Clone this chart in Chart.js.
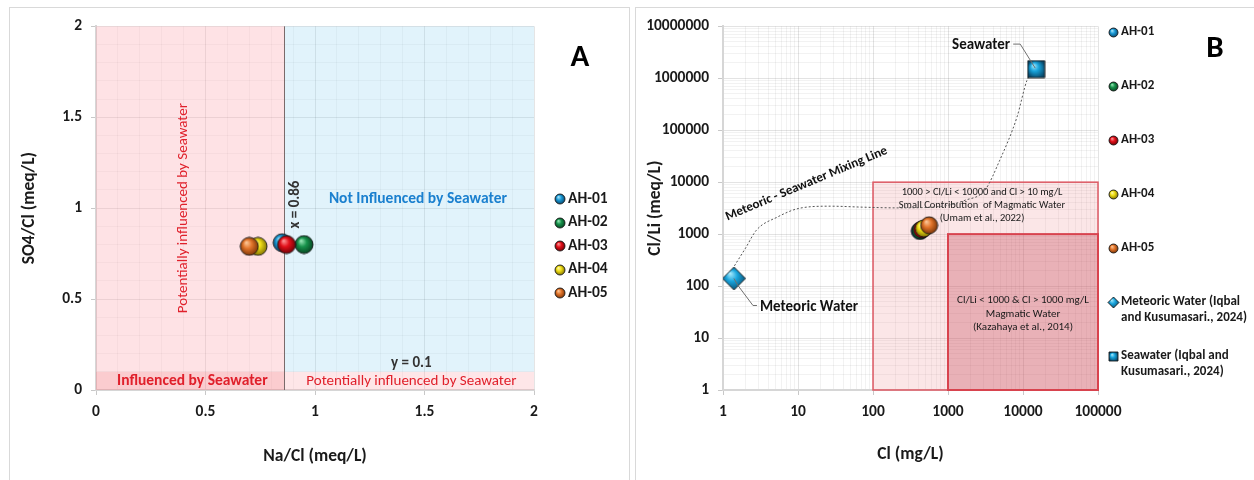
<!DOCTYPE html>
<html>
<head>
<meta charset="utf-8"/>
<title>Na/Cl - SO4/Cl and Cl - Cl/Li diagrams</title>
<script src="https://cdnjs.cloudflare.com/ajax/libs/Chart.js/4.4.1/chart.umd.min.js"></script>
<style>
  body { margin: 0; background: #fff; }
  .panel { position: absolute; top: 7px; width: 621px; height: 480px; border: 1px solid #d9d9d9; box-sizing: border-box; overflow: hidden; }
  #panelA { left: 9px; }
  #panelB { left: 635px; }
  canvas { display: block; }
</style>
</head>
<body>
<div class="panel" id="panelA"><canvas id="chartA" width="619" height="472"></canvas></div>
<div class="panel" id="panelB"><canvas id="chartB" width="619" height="472"></canvas></div>
<script>
// sample names
const sampleNames = ["AH-01", "AH-02", "AH-03", "AH-04", "AH-05"];

// panel A: Na/Cl vs SO4/Cl (meq/L)
const naCl = [0.85, 0.95, 0.87, 0.74, 0.70];
const so4Cl = [0.81, 0.80, 0.80, 0.79, 0.79];
const naClLimit = 0.86;
const so4ClLimit = 0.1;
const ticksA = [0, 0.5, 1, 1.5, 2];

// panel B: Cl (mg/L) vs Cl/Li (meq/L)
const clSample = [420, 430, 450, 475, 560];
const clLiSample = [1150, 1170, 1230, 1290, 1480];
const endNames = ["Meteoric Water (Iqbal and Kusumasari., 2024)", "Seawater (Iqbal and Kusumasari., 2024)"];
const endCl = [1.4, 15000];
const endClLi = [140, 1500000];
// meteoric - seawater mixing line
const mixCl = [1.42, 2.0, 2.8, 5.2, 10.5, 27, 75, 210, 780, 1700, 3100, 4900, 8300, 11300, 13500];
const mixClLi = [245, 540, 1200, 2100, 3150, 3450, 3300, 3200, 3400, 4500, 7000, 26500, 178000, 915000, 1400000];
// boxes: Cl from, Cl to, Cl/Li from, Cl/Li to
const smallMagmaticBox = [100, 100000, 1, 10000];
const magmaticBox = [1000, 100000, 1, 1000];
const ticksClB = [1, 10, 100, 1000, 10000, 100000];
const ticksClLiB = [1, 10, 100, 1000, 10000, 100000, 1000000, 10000000];

const FONT = "Carlito, Lato, 'Open Sans', sans-serif";
Chart.defaults.font.family = FONT;
Chart.defaults.color = '#1a1a1a';
Chart.defaults.animation = false;

// highlight, base, shadow
const seriesColors = [
  ['#b5ecff', '#1a9ad6', '#073f63'],
  ['#a5eec0', '#17924b', '#053f1e'],
  ['#ffa3a3', '#e3101a', '#650004'],
  ['#fffbb8', '#efdd14', '#776900'],
  ['#ffcfa3', '#e2742a', '#723004']
];
const endColors = ['#b0efff', '#18a4dc', '#08496b'];
// drawing order, lower is on top
const drawOrder = [4, 3, 2, 1, 0];

// shaded 3d markers drawn on small canvases
function markerCanvas(size, pathFn, cols) {
  const c = document.createElement('canvas');
  c.width = c.height = size;
  const g = c.getContext('2d');
  const m = size / 2, r = size / 2 - 1;
  const grad = g.createRadialGradient(m - r * 0.35, m - r * 0.45, 0, m, m, r * 1.1);
  grad.addColorStop(0, cols[0]);
  grad.addColorStop(0.45, cols[1]);
  grad.addColorStop(1, cols[2]);
  g.beginPath();
  pathFn(g, m, r);
  g.closePath();
  g.fillStyle = grad;
  g.fill();
  g.strokeStyle = 'rgba(20,20,20,0.85)';
  g.lineWidth = 1;
  g.stroke();
  return c;
}
const sphere = (cols, r) => markerCanvas(Math.ceil(2 * r + 2), (g, m, rr) => g.arc(m, m, rr, 0, Math.PI * 2), cols);
const diamond = (cols, r) => markerCanvas(Math.ceil(2 * r + 2), (g, m, rr) => {
  g.moveTo(m, m - rr); g.lineTo(m + rr, m); g.lineTo(m, m + rr); g.lineTo(m - rr, m);
}, cols);
const square = (cols, r) => markerCanvas(Math.ceil(2 * r + 2), (g, m, rr) => g.rect(m - rr, m - rr, 2 * rr, 2 * rr), cols);

function drawText(ctx, t, x, y) {
  ctx.save();
  ctx.translate(x, y);
  if (t.rot) ctx.rotate(t.rot * Math.PI / 180);
  ctx.font = t.font;
  ctx.fillStyle = t.color;
  ctx.textAlign = t.align || 'center';
  ctx.textBaseline = 'middle';
  ctx.fillText(t.text, 0, 0);
  ctx.restore();
}

// legend drawn beside the plot
function sideLegend(items, lay) {
  return {
    id: 'sideLegend',
    afterDraw(chart) {
      const ctx = chart.ctx;
      items.forEach((item, i) => {
        const y = lay.y + i * lay.step;
        ctx.drawImage(item.icon, Math.round(lay.x - item.icon.width / 2), Math.round(y - item.icon.height / 2));
        item.lines.forEach((line, j) => drawText(ctx, {text: line, font: lay.font, color: '#1a1a1a', align: 'left'}, lay.x + lay.gap, y + j * lay.lineHeight));
      });
      drawText(ctx, {text: lay.letter, font: `bold 31px ${FONT}`, color: '#000'}, lay.letterX, lay.letterY);
    }
  };
}

const RED = '#e0202b';
const redFont = `15px ${FONT}`;
const boldFont = `bold 15.5px ${FONT}`;

// ---------- panel A ----------
const regionsA = [
  {x0: 0, x1: naClLimit, y0: so4ClLimit, y1: 2, fill: 'rgba(250,150,160,0.28)'},
  {x0: naClLimit, x1: 2, y0: so4ClLimit, y1: 2, fill: 'rgba(120,200,235,0.22)'},
  {x0: 0, x1: naClLimit, y0: 0, y1: so4ClLimit, fill: 'rgba(245,120,130,0.38)'},
  {x0: naClLimit, x1: 2, y0: 0, y1: so4ClLimit, fill: 'rgba(250,150,160,0.24)'}
];
const textsA = [
  {text: 'Potentially influenced by Seawater', x: 0.40, y: 1.0, rot: -90, font: redFont, color: RED},
  {text: 'x = 0.86', x: 0.91, y: 1.02, rot: -90, font: `bold 15px ${FONT}`, color: '#333'},
  {text: 'Not Influenced by Seawater', x: 1.47, y: 1.05, font: boldFont, color: '#1b80cf'},
  {text: 'y = 0.1', x: 1.44, y: 0.148, font: `bold 15px ${FONT}`, color: '#333'},
  {text: 'Influenced by Seawater', x: 0.44, y: 0.05, font: boldFont, color: RED},
  {text: 'Potentially influenced by Seawater', x: 1.44, y: 0.05, font: redFont, color: RED}
];

const overlayA = {
  id: 'overlayA',
  beforeDatasetsDraw(chart) {
    const {ctx, scales: {x, y}} = chart;
    ctx.save();
    regionsA.forEach(r => {
      const x0 = x.getPixelForValue(r.x0), x1 = x.getPixelForValue(r.x1);
      const y0 = y.getPixelForValue(r.y0), y1 = y.getPixelForValue(r.y1);
      ctx.fillStyle = r.fill;
      ctx.fillRect(x0, y1, x1 - x0, y0 - y1);
    });
    // x = 0.86 line
    const lx = Math.round(x.getPixelForValue(naClLimit)) + 0.5;
    ctx.beginPath();
    ctx.moveTo(lx, y.getPixelForValue(0));
    ctx.lineTo(lx, y.getPixelForValue(2));
    ctx.strokeStyle = '#7a6a6a';
    ctx.lineWidth = 1;
    ctx.stroke();
    textsA.forEach(t => drawText(ctx, t, x.getPixelForValue(t.x), y.getPixelForValue(t.y)));
    ctx.restore();
  }
};

const isTickA = v => ticksA.some(t => Math.abs(t - v) < 1e-6);
function axisA(titleText, horizontal) {
  return {
    type: 'linear', min: 0, max: 2,
    ticks: {
      stepSize: 0.1, autoSkip: false, maxRotation: 0, padding: horizontal ? 8 : 9,
      font: {size: 15.5, weight: 'bold'}, color: '#1a1a1a',
      callback: v => isTickA(v) ? String(+v.toFixed(1)) : ''
    },
    grid: {
      color: c => isTickA(c.tick.value) ? 'rgba(0,0,0,0.10)' : 'rgba(0,0,0,0.045)',
      tickColor: c => isTickA(c.tick.value) ? '#c8c8c8' : 'rgba(0,0,0,0)',
      tickLength: 5
    },
    border: {color: '#d6d6d6', width: 2},
    title: {
      display: true, text: titleText, color: '#1a1a1a',
      font: {size: 17.5, weight: 'bold'},
      padding: horizontal ? {top: 0, bottom: 12.5} : {top: 9, bottom: 0}
    },
    afterFit: s => { if (horizontal) s.height = 90; else s.width = 86; }
  };
}

const datasetsA = sampleNames.map((name, i) => ({
  label: name,
  data: [{x: naCl[i], y: so4Cl[i]}],
  pointStyle: sphere(seriesColors[i], 9),
  order: drawOrder[i]
}));

const legendItemsA = sampleNames.map((name, i) => ({icon: sphere(seriesColors[i], 5), lines: [name]}));

new Chart(document.getElementById('chartA'), {
  type: 'scatter',
  data: {datasets: datasetsA},
  options: {
    responsive: false,
    events: [],
    layout: {padding: {left: 0, top: 18, right: 95, bottom: 0}},
    plugins: {legend: {display: false}, tooltip: {enabled: false}},
    scales: {x: axisA('Na/Cl (meq/L)', true), y: axisA('SO4/Cl (meq/L)', false)}
  },
  plugins: [overlayA, sideLegend(legendItemsA, {
    x: 550, y: 191, step: 23.5, gap: 8, lineHeight: 16, font: `bold 15.5px ${FONT}`,
    letter: 'A', letterX: 570, letterY: 50
  })]
});

// ---------- panel B ----------
const boxesB = [
  {box: smallMagmaticBox, fill: 'rgba(235,120,130,0.19)', stroke: '#de5a64', width: 1.5,
   lines: ['1000 > Cl/Li < 10000 and Cl > 10 mg/L', 'Small Contribution  of Magmatic Water', '(Umam et al., 2022)'],
   tx: 2840, ty: 3610, lineHeight: 13, font: `10.5px ${FONT}`},
  {box: magmaticBox, fill: 'rgba(195,65,80,0.32)', stroke: '#d8434e', width: 2,
   lines: ['Cl/Li < 1000 & Cl > 1000 mg/L', 'Magmatic Water', '(Kazahaya et al., 2014)'],
   tx: 10000, ty: 29, lineHeight: 13.5, font: `11px ${FONT}`}
];
const mixLabel = {text: 'Meteoric - Seawater Mixing Line', x: 13, y: 9300, rot: -22.7, font: `bold 13px ${FONT}`, color: '#111'};
// callouts for the end members, offsets in pixels from the marker
const callouts = [
  {text: 'Meteoric Water', dx: 26, dy: 29, align: 'left', leader: [[0, 0], [4, 7], [19, 27], [23, 27]]},
  {text: 'Seawater', dx: -26, dy: -24, align: 'right', leader: [[-23, -25], [-16, -25], [-1, -1]]}
];

const overlayB = {
  id: 'overlayB',
  beforeDatasetsDraw(chart) {
    const {ctx, scales: {x, y}} = chart;
    ctx.save();
    boxesB.forEach(b => {
      const x0 = x.getPixelForValue(b.box[0]), x1 = x.getPixelForValue(b.box[1]);
      const y0 = y.getPixelForValue(b.box[2]), y1 = y.getPixelForValue(b.box[3]);
      ctx.fillStyle = b.fill;
      ctx.fillRect(x0, y1, x1 - x0, y0 - y1);
      ctx.strokeStyle = b.stroke;
      ctx.lineWidth = b.width;
      ctx.strokeRect(x0, y1, x1 - x0, y0 - y1);
    });
    boxesB.forEach(b => {
      const cx = x.getPixelForValue(b.tx), cy = y.getPixelForValue(b.ty);
      b.lines.forEach((line, j) => drawText(ctx, {text: line, font: b.font, color: '#1a1a1a'},
        cx, cy + (j - (b.lines.length - 1) / 2) * b.lineHeight));
    });
    drawText(ctx, mixLabel, x.getPixelForValue(mixLabel.x), y.getPixelForValue(mixLabel.y));
    ctx.restore();
  },
  afterDatasetsDraw(chart) {
    const {ctx, scales: {x, y}} = chart;
    ctx.save();
    callouts.forEach((c, i) => {
      const px = x.getPixelForValue(endCl[i]), py = y.getPixelForValue(endClLi[i]);
      ctx.beginPath();
      c.leader.forEach(([dx, dy], j) => j ? ctx.lineTo(px + dx, py + dy) : ctx.moveTo(px + dx, py + dy));
      ctx.strokeStyle = '#6f6f6f';
      ctx.lineWidth = 1;
      ctx.stroke();
      drawText(ctx, {text: c.text, font: `bold 15px ${FONT}`, color: '#111', align: c.align}, px + c.dx, py + c.dy);
    });
    ctx.restore();
  }
};

const isDecade = v => Math.abs(Math.log10(v) - Math.round(Math.log10(v))) < 1e-6;
function axisB(min, max, labels, titleText, horizontal) {
  return {
    type: 'logarithmic', min: min, max: max,
    afterBuildTicks: s => {
      const t = [];
      for (let d = min; d < max; d *= 10) {
        for (let m = 1; m < 10; m++) t.push({value: d * m, major: m === 1});
      }
      t.push({value: max, major: true});
      s.ticks = t;
    },
    ticks: {
      autoSkip: false, maxRotation: 0, padding: horizontal ? 8 : 9,
      font: {size: 15.5, weight: 'bold'}, color: '#1a1a1a',
      callback: v => (isDecade(v) && labels.some(l => Math.abs(l - v) / l < 1e-6)) ? String(Math.round(v)) : ''
    },
    grid: {
      color: c => isDecade(c.tick.value) ? 'rgba(0,0,0,0.11)' : 'rgba(0,0,0,0.05)',
      tickColor: c => isDecade(c.tick.value) ? '#c8c8c8' : 'rgba(0,0,0,0)',
      tickLength: 5
    },
    border: {color: '#d6d6d6', width: 2},
    title: {
      display: true, text: titleText, color: '#1a1a1a',
      font: {size: 17.5, weight: 'bold'},
      padding: horizontal ? {top: 0, bottom: 14.5} : {top: 9, bottom: 0}
    },
    afterFit: s => { if (horizontal) s.height = 90; else s.width = 87; }
  };
}

const datasetsB = sampleNames.map((name, i) => ({
  label: name,
  data: [{x: clSample[i], y: clLiSample[i]}],
  pointStyle: sphere(seriesColors[i], 8.5),
  order: drawOrder[i]
}));
datasetsB.push({
  label: endNames[0], data: [{x: endCl[0], y: endClLi[0]}],
  pointStyle: diamond(endColors, 11.5), order: 5
});
datasetsB.push({
  label: endNames[1], data: [{x: endCl[1], y: endClLi[1]}],
  pointStyle: square(endColors, 8.5), order: 6
});
datasetsB.push({
  label: 'Meteoric - Seawater Mixing Line',
  data: mixCl.map((v, i) => ({x: v, y: mixClLi[i]})),
  showLine: true, borderColor: '#555', borderWidth: 1, borderDash: [2, 2],
  pointRadius: 0, cubicInterpolationMode: 'monotone', order: 10
});

const legendItemsB = sampleNames.map((name, i) => ({icon: sphere(seriesColors[i], 4.5), lines: [name]}));
legendItemsB.push({icon: diamond(endColors, 5.5), lines: ['Meteoric Water (Iqbal', 'and Kusumasari., 2024)']});
legendItemsB.push({icon: square(endColors, 4.5), lines: ['Seawater (Iqbal and', 'Kusumasari., 2024)']});

new Chart(document.getElementById('chartB'), {
  type: 'scatter',
  data: {datasets: datasetsB},
  options: {
    responsive: false,
    events: [],
    layout: {padding: {left: 0, top: 18, right: 157, bottom: 0}},
    plugins: {legend: {display: false}, tooltip: {enabled: false}},
    scales: {
      x: axisB(1, 100000, ticksClB, 'Cl (mg/L)', true),
      y: axisB(1, 10000000, ticksClLiB, 'Cl/Li (meq/L)', false)
    }
  },
  plugins: [overlayB, sideLegend(legendItemsB, {
    x: 477, y: 24, step: 54, gap: 8, lineHeight: 16, font: `bold 13px ${FONT}`,
    letter: 'B', letterX: 579, letterY: 41
  })]
});
</script>
</body>
</html>
